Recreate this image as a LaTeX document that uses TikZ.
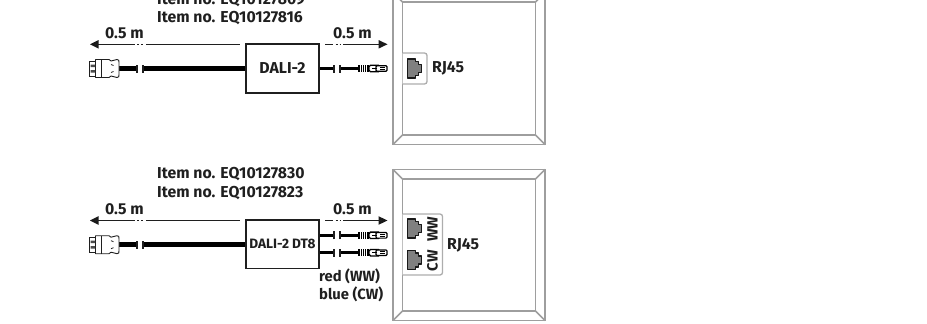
\documentclass[tikz,border=0pt]{standalone}
\usepackage{fontspec}
\setmainfont{Fira Sans}
\tikzset{
  x=1pt,y=-1pt,
  lbl/.style={inner sep=0pt,font=\fontsize{15.8}{18}\selectfont\bfseries,text=black!88},
  smalllbl/.style={inner sep=0pt,font=\fontsize{14.8}{18}\selectfont\bfseries,text=black!88},
  frameline/.style={draw=black!38,line width=1.5pt},
  devbox/.style={draw=black!88,line width=1.3pt,fill=white,inner sep=0pt,font=\fontsize{15.8}{18}\selectfont\bfseries,text=black!88},
  dimline/.style={draw=black!88,line width=1.4pt},
  cable/.style={draw=black,line width=5pt},
  thincable/.style={draw=black,line width=3.3pt},
  tickbar/.style={draw=black!88,line width=1.2pt},
  portframe/.style={draw=black!32,line width=1.3pt,rounded corners=2.5pt,fill=white},
}
\newcommand{\wallframe}[4]{% x0 y0 x1 y1 outer
  \draw[frameline] (#1,#2) rectangle (#3,#4);
  \draw[frameline] (#1+9.5,#2+9.5) rectangle (#3-9.5,#4-9.5);
  \draw[frameline] (#1,#2) -- (#1+9.5,#2+9.5) (#3,#2) -- (#3-9.5,#2+9.5)
    (#1,#4) -- (#1+9.5,#4-9.5) (#3,#4) -- (#3-9.5,#4-9.5);
}
\newcommand{\jackshape}[2]{% centre x,y
  \draw[fill=black!50,draw=black!90,line width=1.1pt,line join=round]
    (#1-7,#2-9.5) -- (#1+1,#2-9.5) -- (#1+1,#2-7) -- (#1+4,#2-7) -- (#1+4,#2-4) -- (#1+7,#2-4)
    -- (#1+7,#2+4) -- (#1+4,#2+4) -- (#1+4,#2+7) -- (#1+1,#2+7) -- (#1+1,#2+9.5) -- (#1-7,#2+9.5) -- cycle;
}
\newcommand{\dalimale}[2]{% x of left end, y centre
  \draw[black!88,line width=0.9pt,fill=white,line join=round]
    (#1+6.5,#2-9) -- (#1+20,#2-9) -- (#1+22,#2-7.5) -- (#1+28,#2-9) .. controls (#1+30,#2-9) and (#1+30,#2-8) .. (#1+30,#2-6)
    -- (#1+30,#2+6) .. controls (#1+30,#2+8) and (#1+30,#2+9) .. (#1+28,#2+9) -- (#1+22,#2+7.5) -- (#1+20,#2+9) -- (#1+6.5,#2+9) -- cycle;
  \draw[black!88,line width=0.9pt,fill=white] (#1,#2-7.5) rectangle (#1+6.5,#2+7.5);
  \draw[black!88,line width=0.9pt] (#1+12,#2-9) -- (#1+12,#2+9);
  \fill[black!70] (#1+1.5,#2-4) rectangle (#1+6,#2-1.5) (#1+1.5,#2+1.5) rectangle (#1+6,#2+4);
  \draw[black!88,line width=0.8pt] (#1+22,#2-4) -- (#1+24.5,#2-3) (#1+22,#2+4) -- (#1+24.5,#2+3);
}
\newcommand{\rjplug}[2]{% x of left end, y centre
  \fill[black] (#1,#2-3.6) rectangle (#1+11,#2+3.6);
  \foreach \k in {2,4.2,6.4,8.6} \draw[white,line width=0.55pt] (#1+\k,#2-3.6) -- (#1+\k,#2+3.6);
  \draw[black,line width=1.3pt,fill=white,rounded corners=1.5pt] (#1+11,#2-3.2) rectangle (#1+22,#2+3.2);
  \draw[black,line width=1.2pt,fill=white,rounded corners=1pt] (#1+18,#2-2.8) rectangle (#1+29,#2+2.8);
  \draw[black,line width=0.9pt] (#1+14,#2) -- (#1+19,#2) (#1+22,#2-1) -- (#1+27,#2-1) (#1+22,#2+1.2) -- (#1+27,#2+1.2);
}
\begin{document}
\begin{tikzpicture}
\useasboundingbox (0,0) rectangle (927,324);
\begin{scope}
\clip (0,0) rectangle (927,324);
\wallframe{393}{-7.5}{545}{144.5}
\wallframe{393}{169.5}{545}{320.5}
\draw[portframe] (402.5,53) -- (427,53) -- (427,84) -- (402.5,84);
\draw[portframe] (402.5,214) -- (442.5,214) -- (442.5,275) -- (402.5,275);
\node[lbl,anchor=west] at (157,0.5) {Item no. EQ10127809};
\end{scope}
\jackshape{414.5}{68.5}
\jackshape{414.5}{228.5}
\jackshape{414.5}{260}
\node[lbl,anchor=west] at (157,18) {Item no. EQ10127816};
\node[lbl,anchor=west] at (157,174.5) {Item no. EQ10127830};
\node[lbl,anchor=west] at (157,193) {Item no. EQ10127823};
\node[lbl,anchor=west] (d1l) at (105,33) {0.5 m};
\node[lbl,anchor=west] (d1r) at (333,33) {0.5 m};
\node[lbl,anchor=west] (d2l) at (105,209.5) {0.5 m};
\node[lbl,anchor=west] (d2r) at (333,209.5) {0.5 m};
\node[lbl,anchor=west] (rj1) at (432,68.5) {RJ45};
\node[lbl,anchor=west] (rj2) at (447,245) {RJ45};
\node[smalllbl,anchor=center,rotate=90] (ww) at (432.5,229) {WW};
\node[smalllbl,anchor=center,rotate=90] (cw) at (432.5,260.5) {CW};
\node[smalllbl,anchor=west] at (319,276.5) {red (WW)};
\node[smalllbl,anchor=west] at (319,294) {blue (CW)};
\node[devbox,minimum width=73pt,minimum height=49pt] (dali1) at (282.5,68.5) {DALI-2};
\node[devbox,minimum width=73pt,minimum height=48.5pt] (dali2) at (282.5,244.2) {\fontsize{13.6}{15}\selectfont DALI-2 DT8};
\coordinate (l1a) at (119,68.5); \coordinate (l1b) at (137,68.5); \coordinate (l1c) at (143,68.5);
\coordinate (r1a) at (334,68.5); \coordinate (r1b) at (340,68.5); \coordinate (r1c) at (358,68.5);
\coordinate (l2a) at (119,244.7); \coordinate (l2b) at (137,244.7); \coordinate (l2c) at (143,244.7);
\coordinate (r2a) at (334,235.3); \coordinate (r2b) at (340,235.3); \coordinate (r2c) at (358,235.3);
\coordinate (r3a) at (334,252.7); \coordinate (r3b) at (340,252.7); \coordinate (r3c) at (358,252.7);
\draw[cable] (l1a) -- (l1b); \draw[cable] (l1c) -- (dali1.west);
\draw[cable] (l2a) -- (l2b); \draw[cable] (l2c) -- (dali2.west |- l2c);
\foreach \p in {l1b,l1c,l2b,l2c} \draw[tickbar] ([yshift=-4pt]\p) -- ([yshift=4pt]\p);
\draw[thincable] (dali1.east |- r1a) -- (r1a); \draw[thincable] (r1b) -- (r1c);
\draw[thincable] (dali2.east |- r2a) -- (r2a); \draw[thincable] (r2b) -- (r2c);
\draw[thincable] (dali2.east |- r3a) -- (r3a); \draw[thincable] (r3b) -- (r3c);
\foreach \p in {r1a,r1b,r2a,r2b,r3a,r3b} \draw[tickbar] ([yshift=-4pt]\p) -- ([yshift=4pt]\p);
\dalimale{89}{68.5}
\dalimale{89}{244.7}
\rjplug{358}{68.5}
\rjplug{358}{235.3}
\rjplug{358}{252.7}
\coordinate (a2) at (240,44.3); \coordinate (a3) at (325,44.3);
\coordinate (b2) at (240,220.5); \coordinate (b3) at (325,220.5);
\fill[black!90] (90,44.3) -- (98.5,40) -- (98.5,48.6) -- cycle (90,220.5) -- (98.5,216.2) -- (98.5,224.8) -- cycle
  (387.5,44.3) -- (378.5,40) -- (378.5,48.6) -- cycle (387.5,220.5) -- (378.5,216.2) -- (378.5,224.8) -- cycle;
\draw[dimline] (95,44.3) -- (135,44.3) (137,44.3) -- (139,44.3) (141,44.3) -- (143,44.3) (146,44.3) -- (a2);
\draw[dimline] (95,220.5) -- (135,220.5) (137,220.5) -- (139,220.5) (141,220.5) -- (143,220.5) (146,220.5) -- (b2);
\draw[dimline] (a3) -- (333,44.3) (335.5,44.3) -- (337.5,44.3) (339.5,44.3) -- (341,44.3) (343,44.3) -- (382,44.3);
\draw[dimline] (b3) -- (333,220.5) (335.5,220.5) -- (337.5,220.5) (339.5,220.5) -- (341,220.5) (343,220.5) -- (382,220.5);
\end{tikzpicture}
\end{document}
